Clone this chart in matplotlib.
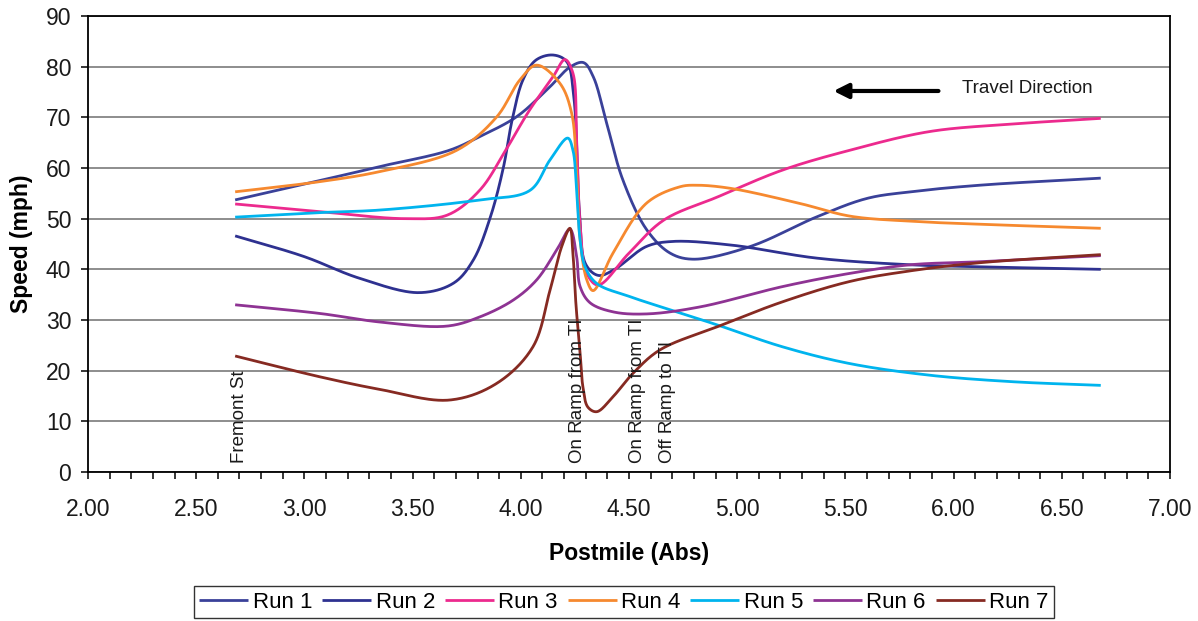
import numpy as np
import matplotlib
matplotlib.use("Agg")
import matplotlib.pyplot as plt
from matplotlib.ticker import MultipleLocator, FormatStrFormatter

plt.rcParams['font.family'] = ['Liberation Sans', 'DejaVu Sans']

# ---------------- data ----------------
run_names = ["Run 1", "Run 2", "Run 3", "Run 4", "Run 5", "Run 6", "Run 7"]
run_colors = ["#3A4199", "#2E3190", "#EC2A8E", "#F6892F", "#00B4EE", "#8E3393", "#862A22"]

run1_x = [2.68, 3.07, 3.35, 3.67, 3.81, 3.98, 4.12, 4.23, 4.29, 4.335, 4.397, 4.472, 4.582, 4.69, 4.797, 5.06, 5.37, 5.60, 5.80, 6.12, 6.68]
run1_y = [53.7, 57.5, 60.3, 63.5, 66.2, 70.1, 75.4, 80.0, 80.8, 78.0, 68.8, 57.6, 47.8, 43.2, 42.0, 44.5, 50.4, 54.0, 55.3, 56.6, 58.0]

run2_x = [2.68, 3.00, 3.25, 3.53, 3.69, 3.78, 3.86, 3.92, 3.96, 4.01, 4.07, 4.149, 4.212, 4.245, 4.27, 4.30, 4.358, 4.43, 4.58, 4.70, 4.97, 5.37, 5.80, 6.12, 6.68]
run2_y = [46.6, 42.5, 38.3, 35.4, 37.3, 41.8, 50.4, 60.2, 69.5, 77.4, 81.3, 82.3, 81.0, 74.0, 52.0, 41.0, 38.8, 39.9, 44.5, 45.5, 44.8, 42.2, 40.9, 40.5, 40.0]

run3_x = [2.68, 3.07, 3.47, 3.66, 3.81, 3.93, 4.04, 4.149, 4.204, 4.241, 4.258, 4.274, 4.305, 4.357, 4.50, 4.66, 4.91, 5.21, 5.52, 5.89, 6.28, 6.68]
run3_y = [52.9, 51.4, 50.0, 50.7, 55.6, 63.5, 71.4, 78.0, 81.4, 78.7, 65.5, 49.0, 39.2, 36.9, 43.2, 49.7, 54.3, 59.6, 63.5, 67.2, 68.7, 69.8]

run4_x = [2.68, 3.07, 3.349, 3.704, 3.889, 3.996, 4.073, 4.181, 4.235, 4.258, 4.274, 4.305, 4.334, 4.426, 4.582, 4.736, 4.813, 4.967, 5.29, 5.521, 5.799, 6.122, 6.68]
run4_y = [55.3, 57.3, 59.3, 63.5, 70.1, 77.4, 80.3, 76.7, 70.8, 59.0, 45.8, 37.9, 35.8, 43.2, 53.1, 56.3, 56.6, 56.0, 53.0, 50.5, 49.5, 48.9, 48.1]

run5_x = [2.68, 3.07, 3.349, 3.81, 4.043, 4.135, 4.217, 4.241, 4.258, 4.274, 4.297, 4.351, 4.505, 4.736, 4.91, 5.21, 5.52, 5.89, 6.28, 6.68]
run5_y = [50.3, 51.2, 51.7, 53.7, 55.6, 61.6, 65.9, 63.5, 55.6, 45.8, 40.5, 37.2, 34.6, 31.4, 29.0, 24.7, 21.4, 19.1, 17.8, 17.1]

run6_x = [2.68, 3.07, 3.349, 3.66, 3.81, 3.964, 4.073, 4.166, 4.227, 4.258, 4.274, 4.32, 4.427, 4.582, 4.83, 5.21, 5.52, 5.80, 6.12, 6.68]
run6_y = [33.0, 31.3, 29.6, 28.8, 30.6, 33.9, 37.9, 43.8, 47.9, 42.5, 36.6, 33.4, 31.6, 31.2, 32.6, 36.6, 39.2, 40.9, 41.5, 42.7]

run7_x = [2.68, 3.07, 3.349, 3.67, 3.889, 4.056, 4.135, 4.189, 4.227, 4.241, 4.255, 4.274, 4.287, 4.31, 4.351, 4.427, 4.519, 4.643, 4.91, 5.21, 5.52, 5.80, 6.12, 6.68]
run7_y = [22.9, 18.8, 16.3, 14.2, 17.5, 24.7, 35.9, 44.5, 48.1, 43.0, 33.0, 23.5, 16.8, 12.8, 11.9, 14.9, 19.5, 24.1, 28.7, 33.6, 37.6, 39.7, 41.3, 42.9]

runs_x = [run1_x, run2_x, run3_x, run4_x, run5_x, run6_x, run7_x]
runs_y = [run1_y, run2_y, run3_y, run4_y, run5_y, run6_y, run7_y]

marker_labels = ["Fremont St", "On Ramp from TI", "On Ramp from TI", "Off Ramp to TI"]
marker_x = [2.70, 4.264, 4.537, 4.68]


# ------------- smoothing (Excel-like smoothed line, centripetal Catmull-Rom) -------------
def smooth(xs, ys, sx=216.4, sy=5.067, n=30):
    P = np.column_stack([np.asarray(xs) * sx, np.asarray(ys) * sy])
    P = np.vstack([2 * P[0] - P[1], P, 2 * P[-1] - P[-2]])
    out = []
    for i in range(1, len(P) - 2):
        p0, p1, p2, p3 = P[i - 1], P[i], P[i + 1], P[i + 2]
        def tj(ti, a, b):
            return ti + max(np.linalg.norm(b - a), 1e-6) ** 0.5
        t0 = 0.0
        t1 = tj(t0, p0, p1)
        t2 = tj(t1, p1, p2)
        t3 = tj(t2, p2, p3)
        t = np.linspace(t1, t2, n)[:, None]
        A1 = (t1 - t) / (t1 - t0) * p0 + (t - t0) / (t1 - t0) * p1
        A2 = (t2 - t) / (t2 - t1) * p1 + (t - t1) / (t2 - t1) * p2
        A3 = (t3 - t) / (t3 - t2) * p2 + (t - t2) / (t3 - t2) * p3
        B1 = (t2 - t) / (t2 - t0) * A1 + (t - t0) / (t2 - t0) * A2
        B2 = (t3 - t) / (t3 - t1) * A2 + (t - t1) / (t3 - t1) * A3
        C = (t2 - t) / (t2 - t1) * B1 + (t - t1) / (t2 - t1) * B2
        out.append(C if i == 1 else C[1:])
    C = np.vstack(out)
    return C[:, 0] / sx, C[:, 1] / sy


# ---------------- figure ----------------
fig = plt.figure(figsize=(11.98, 6.21), dpi=100)
ax = fig.add_axes([88 / 1198, 1 - 472 / 621, (1170 - 88) / 1198, (472 - 16) / 621])

ax.set_xlim(2.0, 7.0)
ax.set_ylim(0, 90)
ax.xaxis.set_major_locator(MultipleLocator(0.5))
ax.xaxis.set_minor_locator(MultipleLocator(0.1))
ax.xaxis.set_major_formatter(FormatStrFormatter('%.2f'))
ax.yaxis.set_major_locator(MultipleLocator(10))

ax.grid(axis='y', color='#858585', lw=1.3, zorder=0)
ax.set_axisbelow(True)
for s in ax.spines.values():
    s.set_color('black')
    s.set_linewidth(1.3)

ax.tick_params(axis='both', which='both', direction='out', length=5, width=1.1,
               colors='black', labelsize=16.5, labelcolor='#1a1a1a')
ax.tick_params(axis='x', which='major', pad=14)
ax.tick_params(axis='y', which='major', pad=7)

for name, col, xs, ys in zip(run_names, run_colors, runs_x, runs_y):
    sxv, syv = smooth(xs, ys)
    ax.plot(sxv, syv, color=col, lw=2.0, label=name, solid_capstyle='butt', zorder=3)

for lab, xv in zip(marker_labels, marker_x):
    ax.text(xv, 1.8, lab, rotation=90, ha='center', va='bottom', fontsize=13.5,
            color='#1a1a1a', zorder=4)

ax.annotate('', xy=(5.445, 75.2), xytext=(5.93, 75.2),
            arrowprops=dict(arrowstyle='-|>', lw=3, color='black', mutation_scale=22,
                            shrinkA=0, shrinkB=0))
ax.text(6.04, 75.6, 'Travel Direction', ha='left', va='center', fontsize=13.6, color='#1a1a1a')

ax.set_xlabel('Postmile (Abs)', fontsize=16.5, fontweight='bold', labelpad=15)
ax.set_ylabel('Speed (mph)', fontsize=16.5, fontweight='bold', labelpad=9)

leg = fig.legend(loc='center', bbox_to_anchor=(624 / 1198, 1 - 602 / 621), ncol=7,
                 fontsize=16, frameon=True, fancybox=False, handlelength=2.2,
                 handletextpad=0.2, columnspacing=0.45, borderpad=0.25)
leg.get_frame().set_edgecolor('black')
leg.get_frame().set_linewidth(1.0)

fig.savefig('out.png', dpi=100)
